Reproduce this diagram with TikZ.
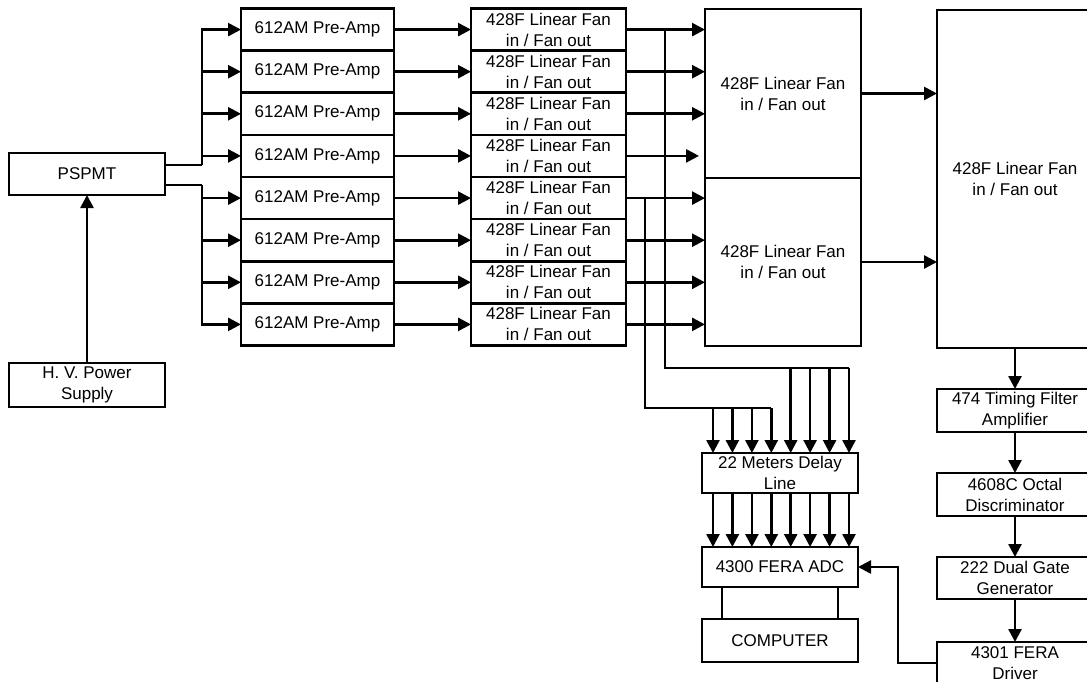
\documentclass[tikz,border=0pt]{standalone}
\usepackage{fontspec}
\setmainfont{Liberation Sans}
\usetikzlibrary{arrows.meta}

\begin{document}
\begin{tikzpicture}[x=1pt,y=-1pt,
		blk/.style={draw,line width=2.6pt,inner sep=0pt,outer sep=0pt,align=center,font=\fontsize{17}{21}\selectfont},
		arr/.style={line width=2.6pt,-{Triangle[length=13pt,width=13pt]}},
		wire/.style={line width=2.6pt}]
	\useasboundingbox (0,0) rectangle (1087,682);
	\node[blk,minimum width=156pt,minimum height=42pt] (pspmt) at (87,174) {PSPMT};
	\node[blk,minimum width=156pt,minimum height=44pt] (hv) at (87,385) {H. V. Power\\Supply};
	\node[blk,minimum width=153pt,minimum height=42.1pt] (pre1) at (317.5,29.6) {612AM Pre-Amp};
	\node[blk,minimum width=153pt,minimum height=42.1pt] (pre2) at (317.5,71.7) {612AM Pre-Amp};
	\node[blk,minimum width=153pt,minimum height=42.1pt] (pre3) at (317.5,113.8) {612AM Pre-Amp};
	\node[blk,minimum width=153pt,minimum height=42.1pt] (pre4) at (317.5,155.9) {612AM Pre-Amp};
	\node[blk,minimum width=153pt,minimum height=42.1pt] (pre5) at (317.5,198.1) {612AM Pre-Amp};
	\node[blk,minimum width=153pt,minimum height=42.1pt] (pre6) at (317.5,240.2) {612AM Pre-Amp};
	\node[blk,minimum width=153pt,minimum height=42.1pt] (pre7) at (317.5,282.3) {612AM Pre-Amp};
	\node[blk,minimum width=153pt,minimum height=42.1pt] (pre8) at (317.5,324.4) {612AM Pre-Amp};
	\node[blk,minimum width=155pt,minimum height=42.1pt] (fan1) at (548.5,29.6) {428F Linear Fan\\in / Fan out};
	\node[blk,minimum width=155pt,minimum height=42.1pt] (fan2) at (548.5,71.7) {428F Linear Fan\\in / Fan out};
	\node[blk,minimum width=155pt,minimum height=42.1pt] (fan3) at (548.5,113.8) {428F Linear Fan\\in / Fan out};
	\node[blk,minimum width=155pt,minimum height=42.1pt] (fan4) at (548.5,155.9) {428F Linear Fan\\in / Fan out};
	\node[blk,minimum width=155pt,minimum height=42.1pt] (fan5) at (548.5,198.1) {428F Linear Fan\\in / Fan out};
	\node[blk,minimum width=155pt,minimum height=42.1pt] (fan6) at (548.5,240.2) {428F Linear Fan\\in / Fan out};
	\node[blk,minimum width=155pt,minimum height=42.1pt] (fan7) at (548.5,282.3) {428F Linear Fan\\in / Fan out};
	\node[blk,minimum width=155pt,minimum height=42.1pt] (fan8) at (548.5,324.4) {428F Linear Fan\\in / Fan out};
	\node[blk,minimum width=156pt,minimum height=169pt] (bigA) at (783,93.5) {428F Linear Fan\\in / Fan out};
	\node[blk,minimum width=156pt,minimum height=168pt] (bigB) at (783,262) {428F Linear Fan\\in / Fan out};
	\node[blk,minimum width=156pt,minimum height=338pt] (bigC) at (1015,179) {428F Linear Fan\\in / Fan out};
	\node[blk,minimum width=156pt,minimum height=43pt] (tfa) at (1015,410.5) {474 Timing Filter\\Amplifier};
	\node[blk,minimum width=156pt,minimum height=43pt] (disc) at (1015,494.5) {4608C Octal\\Discriminator};
	\node[blk,minimum width=156pt,minimum height=42pt] (dgg) at (1015,578) {222 Dual Gate\\Generator};
	\node[blk,minimum width=156pt,minimum height=42pt] (drv) at (1015,663) {4301 FERA\\Driver};
	\node[blk,minimum width=156pt,minimum height=40pt] (delay) at (780,473) {22 Meters Delay\\Line};
	\node[blk,minimum width=156pt,minimum height=40pt] (adc) at (780,567) {4300 FERA ADC};
	\node[blk,minimum width=156pt,minimum height=43pt] (comp) at (780,640.5) {COMPUTER};
	% split points and bus taps
	\coordinate (spu) at (202,165);
	\coordinate (spl) at (202,185);
	\coordinate (busu) at (665,368);
	\coordinate (busl) at (645,408);
	\coordinate (d1) at (713,0);
	\coordinate (d2) at (732.4,0);
	\coordinate (d3) at (751.9,0);
	\coordinate (d4) at (771.3,0);
	\coordinate (d5) at (790.7,0);
	\coordinate (d6) at (810.1,0);
	\coordinate (d7) at (829.6,0);
	\coordinate (d8) at (849,0);
	\coordinate (cl) at (722,0);
	\coordinate (cr) at (838,0);
	\coordinate (drvk) at (898,0);
	% PSPMT to pre-amps
	\draw[arr] (hv.north) -- (pspmt.south);
	\draw[wire] (spu -| pspmt.east) -- (spu);
	\draw[wire] (spl -| pspmt.east) -- (spl);
	\draw[arr] (spu) |- (pre1.west);
	\draw[arr] (spu) |- (pre2.west);
	\draw[arr] (spu) |- (pre3.west);
	\draw[arr] (spu) |- (pre4.west);
	\draw[arr] (spl) |- (pre5.west);
	\draw[arr] (spl) |- (pre6.west);
	\draw[arr] (spl) |- (pre7.west);
	\draw[arr] (spl) |- (pre8.west);
	% pre-amps to fan in / fan out
	\draw[arr] (pre1.east) -- (fan1.west);
	\draw[arr] (pre2.east) -- (fan2.west);
	\draw[arr] (pre3.east) -- (fan3.west);
	\draw[arr] (pre4.east) -- (fan4.west);
	\draw[arr] (pre5.east) -- (fan5.west);
	\draw[arr] (pre6.east) -- (fan6.west);
	\draw[arr] (pre7.east) -- (fan7.west);
	\draw[arr] (pre8.east) -- (fan8.west);
	\draw[arr] (fan1.east) -- (fan1.east -| bigA.west);
	\draw[arr] (fan2.east) -- (fan2.east -| bigA.west);
	\draw[arr] (fan3.east) -- (fan3.east -| bigA.west);
	\draw[arr,shorten >=6pt] (fan4.east) -- (fan4.east -| bigA.west);
	\draw[arr] (fan5.east) -- (fan5.east -| bigB.west);
	\draw[arr] (fan6.east) -- (fan6.east -| bigB.west);
	\draw[arr] (fan7.east) -- (fan7.east -| bigB.west);
	\draw[arr] (fan8.east) -- (fan8.east -| bigB.west);
	\draw[arr] (bigA.east) -- (bigA.east -| bigC.west);
	\draw[arr] (bigB.east) -- (bigB.east -| bigC.west);
	% buses to the delay line
	\draw[wire] (fan1.east -| busu) -- (busu) -- (busu -| d8);
	\draw[wire] (fan5.east -| busl) -- (busl) -- (busl -| d4);
	\draw[arr] (busl -| d1) -- (d1 |- delay.north);
	\draw[arr] (busl -| d2) -- (d2 |- delay.north);
	\draw[arr] (busl -| d3) -- (d3 |- delay.north);
	\draw[arr] (busl -| d4) -- (d4 |- delay.north);
	\draw[arr] (busu -| d5) -- (d5 |- delay.north);
	\draw[arr] (busu -| d6) -- (d6 |- delay.north);
	\draw[arr] (busu -| d7) -- (d7 |- delay.north);
	\draw[arr] (busu -| d8) -- (d8 |- delay.north);
	\draw[arr] (d1 |- delay.south) -- (d1 |- adc.north);
	\draw[arr] (d2 |- delay.south) -- (d2 |- adc.north);
	\draw[arr] (d3 |- delay.south) -- (d3 |- adc.north);
	\draw[arr] (d4 |- delay.south) -- (d4 |- adc.north);
	\draw[arr] (d5 |- delay.south) -- (d5 |- adc.north);
	\draw[arr] (d6 |- delay.south) -- (d6 |- adc.north);
	\draw[arr] (d7 |- delay.south) -- (d7 |- adc.north);
	\draw[arr] (d8 |- delay.south) -- (d8 |- adc.north);
	\draw[wire] (cl |- adc.south) -- (cl |- comp.north);
	\draw[wire] (cr |- adc.south) -- (cr |- comp.north);
	% trigger chain
	\draw[arr] (bigC.south) -- (tfa.north);
	\draw[arr] (tfa.south) -- (disc.north);
	\draw[arr] (disc.south) -- (dgg.north);
	\draw[arr] (dgg.south) -- (drv.north);
	\draw[arr] (drv.west) -| (drvk |- adc.east) -- (adc.east);
\end{tikzpicture}
\end{document}
